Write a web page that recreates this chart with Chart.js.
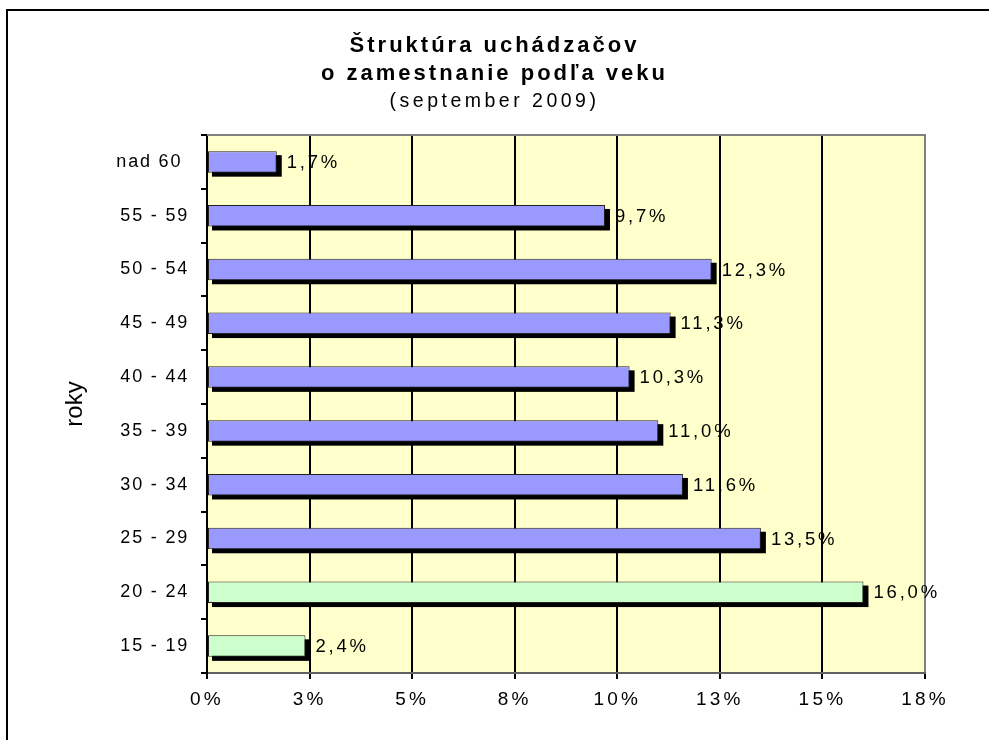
<!DOCTYPE html>
<html>
<head>
<meta charset="utf-8">
<script src="https://cdn.jsdelivr.net/npm/chart.js@4"></script>
<style>
html,body{margin:0;padding:0;background:#fff;overflow:hidden;width:989px;height:740px;}
#wrap{position:absolute;left:0;top:0;width:989px;height:740px;}
#frame{position:absolute;left:6px;top:9px;width:1200px;height:1000px;border:2px solid #000;pointer-events:none;}
</style>
</head>
<body>
<div id="wrap"><canvas id="c" width="989" height="740"></canvas></div>
<div id="frame"></div>
<script>
const categories = ['nad 60 ', '55 - 59', '50 - 54', '45 - 49', '40 - 44', '35 - 39', '30 - 34', '25 - 29', '20 - 24', '15 - 19'];
const shares = [1.7, 9.7, 12.3, 11.3, 10.3, 11.0, 11.6, 13.5, 16.0, 2.4];
const barColors = ['#9999FF', '#9999FF', '#9999FF', '#9999FF', '#9999FF', '#9999FF', '#9999FF', '#9999FF', '#CCFFCC', '#CCFFCC'];
const xTickLabels = ['0%', '3%', '5%', '8%', '10%', '13%', '15%', '18%'];
const titleLines = ['Štruktúra uchádzačov', 'o zamestnanie podľa veku'];
const subtitleText = '(september 2009)';
const axisTitle = 'roky';

const FONT = "'Liberation Sans', Arial, sans-serif";
const NARROW = "'Liberation Sans Narrow', 'Arial Narrow', 'Liberation Sans', sans-serif";

function spacingFor(font) {
  if (font.indexOf('Narrow') >= 0) return '0px';
  if (font.indexOf('bold') >= 0 || font.indexOf('700') >= 0) return '3px';
  if (font.indexOf('19.5px') >= 0) return '3.5px';
  if (font.indexOf('19px') >= 0) return '3.2px';
  if (font.indexOf('18.5px') >= 0) return '2.8px';
  if (font.indexOf('18px') >= 0) return '1.8px';
  return '0px';
}

const canvas = document.getElementById('c');
const ctx0 = canvas.getContext('2d');
const origFill = ctx0.fillText.bind(ctx0);
const origMeasure = ctx0.measureText.bind(ctx0);
ctx0.fillText = function (t, x, y, w) {
  this.letterSpacing = spacingFor(this.font);
  return w === undefined ? origFill(t, x, y) : origFill(t, x, y, w);
};
ctx0.measureText = function (t) {
  this.letterSpacing = spacingFor(this.font);
  return origMeasure(t);
};

const stylePlugin = {
  id: 'stylePlugin',
  beforeDraw(chart) {
    const ctx = chart.ctx;
    const a = chart.chartArea;
    ctx.save();
    ctx.fillStyle = '#FFFFCC';
    ctx.fillRect(a.left, a.top, a.right - a.left, a.bottom - a.top);
    ctx.restore();
  },
  beforeDatasetsDraw(chart) {
    const ctx = chart.ctx;
    const meta = chart.getDatasetMeta(0);
    ctx.save();
    ctx.fillStyle = '#000';
    meta.data.forEach((el) => {
      const p = el.getProps(['x', 'y', 'base', 'height'], true);
      ctx.fillRect(p.base + 4, p.y - p.height / 2 + 4, p.x - p.base + 1, p.height);
    });
    ctx.restore();
  },
  afterDatasetsDraw(chart) {
    const ctx = chart.ctx;
    const a = chart.chartArea;
    ctx.save();
    ctx.strokeStyle = '#808080';
    ctx.lineWidth = 2;
    ctx.beginPath();
    ctx.moveTo(a.left, a.top);
    ctx.lineTo(a.right + 1, a.top);
    ctx.stroke();
    ctx.restore();
    const meta = chart.getDatasetMeta(0);
    ctx.save();
    ctx.font = '18.5px ' + FONT;
    ctx.fillStyle = '#000';
    ctx.textBaseline = 'middle';
    ctx.textAlign = 'left';
    meta.data.forEach((el, i) => {
      const txt = shares[i].toFixed(1).replace('.', ',') + '%';
      ctx.fillText(txt, el.x + 10, el.y + 1);
    });
    ctx.restore();
  }
};

new Chart(canvas, {
  type: 'bar',
  data: {
    labels: categories,
    datasets: [{
      data: shares,
      backgroundColor: barColors,
      borderColor: '#222222',
      borderWidth: 1,
      borderSkipped: false,
      categoryPercentage: 1,
      barPercentage: 0.4
    }]
  },
  options: {
    indexAxis: 'y',
    responsive: false,
    animation: false,
    layout: { padding: 0 },
    plugins: {
      legend: { display: false },
      tooltip: { enabled: false },
      title: {
        display: true,
        text: titleLines,
        color: '#000',
        font: { family: FONT, size: 22, weight: 'bold', lineHeight: 1.273 },
        padding: { top: 32, bottom: 0 }
      },
      subtitle: {
        display: true,
        text: subtitleText,
        color: '#000',
        font: { family: FONT, size: 19.5, weight: 'normal', lineHeight: 1.436 },
        padding: { top: 0, bottom: 19 }
      }
    },
    scales: {
      x: {
        type: 'linear',
        min: 0,
        max: 17.5,
        afterFit(s) { s.height = 67; },
        ticks: {
          stepSize: 2.5,
          color: '#000',
          font: { family: FONT, size: 19 },
          padding: 9,
          callback: (v, i) => xTickLabels[i]
        },
        grid: {
          color: (c) => (c.index === 7 ? '#808080' : '#000'),
          lineWidth: 2,
          drawTicks: true,
          tickLength: 6,
          tickColor: '#000',
          tickWidth: 2
        },
        border: { display: true, color: '#606060', width: 2 }
      },
      y: {
        afterFit(s) { s.width = 207; },
        ticks: {
          color: '#000',
          font: { family: FONT, size: 18 },
          padding: 12
        },
        grid: {
          offset: true,
          drawOnChartArea: false,
          drawTicks: true,
          tickLength: 6,
          color: '#000',
          lineWidth: 2
        },
        border: { display: true, color: '#000', width: 2 },
        title: {
          display: true,
          text: axisTitle,
          color: '#000',
          font: { family: NARROW, size: 24 },
          padding: { top: 61, bottom: 0 }
        }
      },
      yRight: {
        type: 'category',
        position: 'right',
        display: true,
        afterFit(s) { s.width = 64; },
        ticks: { display: false },
        grid: { display: false, drawTicks: false },
        border: { display: false }
      }
    }
  },
  plugins: [stylePlugin]
});
</script>
</body>
</html>
